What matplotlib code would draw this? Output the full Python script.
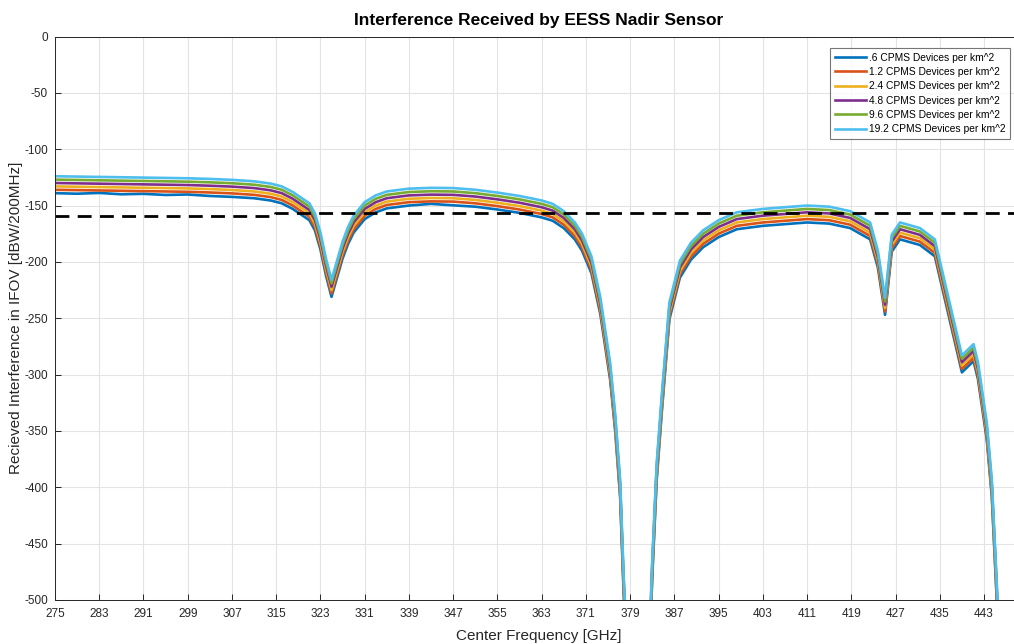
import matplotlib
matplotlib.use("Agg")
import matplotlib.pyplot as plt

plt.rcParams['font.family'] = ['Liberation Sans', 'DejaVu Sans']
plt.rcParams['axes.unicode_minus'] = False

freq = [275, 279, 283, 287, 291, 295, 299, 303, 307, 311,
        314, 316, 318, 319.5, 321, 322, 323, 324, 325, 326,
        327, 328, 329, 331, 333, 335, 339, 343, 347, 351,
        355, 359, 363, 365, 367, 369, 370.3, 372, 373.6, 375.4,
        376.3, 377.2, 377.8, 379, 382, 383, 383.8, 384.7, 386.1, 388,
        390, 392.2, 395, 398.3, 403, 411, 415, 418.8, 422.4, 423.8,
        425.1, 426.3, 427.8, 431.4, 434.1, 439, 441.1, 441.9, 443.5, 444.4,
        445.3, 446.5]

d06 = [-139, -139.5, -138.8, -140, -139.6, -140.6, -140.2, -141.5, -142.3, -143.5,
       -145.5, -148, -153, -158, -163, -172, -189, -212, -231, -214,
       -197, -184, -174, -162, -156, -152.5, -150, -148.5, -149.8, -151,
       -153.5, -156.5, -160.5, -163.5, -170, -180, -190, -210, -246, -305,
       -350, -409, -490, -620, -620, -480, -394, -335, -251, -214,
       -198, -187, -178, -171, -168, -165, -166, -170, -180, -205,
       -247, -191, -180, -185, -195, -298, -288, -304, -358, -408,
       -500, -650]

d12 = [-136, -136.3, -136.6, -136.9, -137.2, -137.5, -137.8, -138.4, -139.2, -140.5,
       -142.5, -145, -150, -155, -160, -169, -186, -209, -228, -211,
       -194, -181, -171, -159, -153, -149.5, -147, -146.3, -146.5, -148,
       -150.5, -153.5, -157.5, -160.5, -167, -177, -187, -207, -243, -302,
       -347, -406, -487, -617, -617, -477, -391, -332, -248, -211,
       -195, -184, -175, -168, -165, -162, -163, -167, -177, -202,
       -244, -188, -177, -182, -192, -295, -285, -301, -355, -405,
       -497, -647]

d24 = [-133, -133.3, -133.6, -133.9, -134.2, -134.5, -134.8, -135.4, -136.2, -137.5,
       -139.5, -142, -147, -152, -157, -166, -183, -206, -225, -208,
       -191, -178, -168, -156, -150, -146.5, -144, -143.3, -143.5, -145,
       -147.5, -150.5, -154.5, -157.5, -164, -174, -184, -204, -240, -299,
       -344, -403, -484, -614, -614, -474, -388, -329, -245, -208,
       -192, -181, -172, -165, -162, -159, -160, -164, -174, -199,
       -241, -185, -174, -179, -189, -292, -282, -298, -352, -402,
       -494, -644]

d48 = [-130, -130.3, -130.6, -130.9, -131.2, -131.5, -131.8, -132.4, -133.2, -134.5,
       -136.5, -139, -144, -149, -154, -163, -180, -203, -222, -205,
       -188, -175, -165, -153, -147, -143.5, -141, -140.3, -140.5, -142,
       -144.5, -147.5, -151.5, -154.5, -161, -171, -181, -201, -237, -296,
       -341, -400, -481, -611, -611, -471, -385, -326, -242, -205,
       -189, -178, -169, -162, -159, -156, -157, -161, -171, -196,
       -238, -182, -171, -176, -186, -289, -279, -295, -349, -399,
       -491, -641]

d96 = [-127, -127.3, -127.6, -127.9, -128.2, -128.5, -128.8, -129.4, -130.2, -131.5,
       -133.5, -136, -141, -146, -151, -160, -177, -200, -219, -202,
       -185, -172, -162, -150, -144, -140.5, -138, -137.3, -137.5, -139,
       -141.5, -144.5, -148.5, -151.5, -158, -168, -178, -198, -234, -293,
       -338, -397, -478, -608, -608, -468, -382, -323, -239, -202,
       -186, -175, -166, -159, -156, -153, -154, -158, -168, -193,
       -235, -179, -168, -173, -183, -286, -276, -292, -346, -396,
       -488, -638]

d192 = [-124, -124.3, -124.6, -124.9, -125.2, -125.5, -125.8, -126.4, -127.2, -128.5,
        -130.5, -133, -138, -143, -148, -157, -174, -197, -216, -199,
        -182, -169, -159, -147, -141, -137.5, -135, -134.3, -134.5, -136,
        -138.5, -141.5, -145.5, -148.5, -155, -165, -175, -195, -231, -290,
        -335, -394, -475, -605, -605, -465, -379, -320, -236, -199,
        -183, -172, -163, -156, -153, -150, -151, -155, -165, -190,
        -232, -176, -165, -170, -180, -283, -273, -289, -343, -393,
        -485, -635]

labels = [".6 CPMS Devices per km^2", "1.2 CPMS Devices per km^2",
          "2.4 CPMS Devices per km^2", "4.8 CPMS Devices per km^2",
          "9.6 CPMS Devices per km^2", "19.2 CPMS Devices per km^2"]
series = [d06, d12, d24, d48, d96, d192]
colors = ["#0072BD", "#D95319", "#EDB120", "#7E2F8E", "#77AC30", "#4DBEEE"]

thr_freq = [275, 314.8, 314.8, 450]
thr_level = [-159.5, -159.5, -156.5, -156.5]

xticks = list(range(275, 444, 8))
yticks = list(range(0, -501, -50))

fig = plt.figure(figsize=(10.14, 6.44), dpi=100)
ax = fig.add_axes([55/1014, 44/644, (450-275)*5.53/1014, 563.5/644])

for s, c, l in zip(series, colors, labels):
    ax.plot(freq, s, color=c, lw=1.9, label=l, solid_joinstyle='round')
ax.plot(thr_freq, thr_level, color='black', lw=2.0, linestyle=(0, (5, 3)))

ax.set_xlim(275, 450)
ax.set_ylim(-500, 0)
ax.set_xticks(xticks)
ax.set_yticks(yticks)
ax.grid(True, color='#e3e3e3', lw=0.8)
ax.set_axisbelow(True)
ax.tick_params(direction='in', length=4, labelsize=8.5, colors='#262626', width=0.7)
ax.tick_params(axis='x', pad=6)
ax.tick_params(axis='y', pad=5)
for sp in ax.spines.values():
    sp.set_color('#262626')
    sp.set_linewidth(0.7)
ax.spines['right'].set_visible(False)

ax.set_title("Interference Received by EESS Nadir Sensor", fontsize=12.5,
             fontweight='bold', pad=8)
ax.set_xlabel("Center Frequency [GHz]", fontsize=11, color='#262626', labelpad=6)
ax.set_ylabel("Recieved Interference in IFOV [dBW/200MHz]", fontsize=11,
              color='#262626', labelpad=1)

leg = ax.legend(loc='upper right', bbox_to_anchor=((1010-55)/967.75, (600-48)/563.5),
                fontsize=7.4, frameon=True, fancybox=False, handlelength=3.0,
                handletextpad=0.3, borderpad=0.45, labelspacing=0.42,
                borderaxespad=0)
leg.get_frame().set_edgecolor('#555555')
leg.get_frame().set_linewidth(0.8)

fig.savefig("out.png", dpi=100)
